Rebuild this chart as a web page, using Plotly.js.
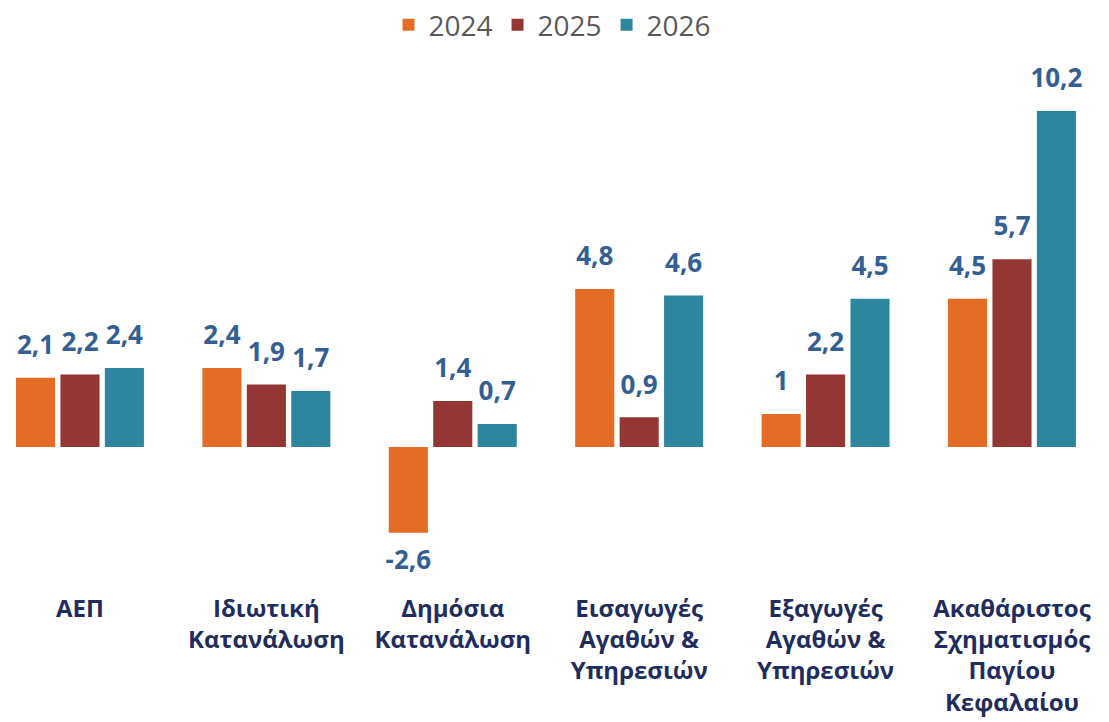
<!DOCTYPE html>
<html>
<head>
<meta charset="utf-8">
<script src="https://cdn.plot.ly/plotly-3.0.1.min.js"></script>
<style>html,body{margin:0;padding:0;background:#fff;}#chart{width:1109px;height:722px;}</style>
</head>
<body>
<div id="chart"></div>
<script>
const categories = [
  "ΑΕΠ",
  "Ιδιωτική<br>Κατανάλωση",
  "Δημόσια<br>Κατανάλωση",
  "Εισαγωγές<br>Αγαθών &amp;<br>Υπηρεσιών",
  "Εξαγωγές<br>Αγαθών &amp;<br>Υπηρεσιών",
  "Ακαθάριστος<br>Σχηματισμός<br>Παγίου<br>Κεφαλαίου"
];
const seriesNames = ["2024", "2025", "2026"];
const values2024 = [2.1, 2.4, -2.6, 4.8, 1, 4.5];
const values2025 = [2.2, 1.9, 1.4, 0.9, 2.2, 5.7];
const values2026 = [2.4, 1.7, 0.7, 4.6, 4.5, 10.2];
const colors = ["#E46C25", "#943634", "#2D869E"];

const allValues = [values2024, values2025, values2026];
const fmt = v => String(v).replace('.', ',');

const bars = allValues.map((vals, i) => ({
  type: 'bar',
  name: seriesNames[i],
  x: categories,
  y: vals,
  offsetgroup: seriesNames[i],
  marker: {color: colors[i]},
  hoverinfo: 'skip'
}));

const labels = allValues.map((vals, i) => ({
  type: 'scatter',
  mode: 'markers+text',
  showlegend: false,
  x: categories,
  y: vals,
  offsetgroup: seriesNames[i],
  text: vals.map(fmt),
  textposition: vals.map(v => v < 0 ? 'bottom center' : 'top center'),
  textfont: {family: 'Open Sans', size: 26, color: '#335F93', weight: 'bold'},
  marker: {size: 26, color: 'rgba(0,0,0,0)'},
  cliponaxis: false,
  hoverinfo: 'skip'
}));

const layout = {
  width: 1109,
  height: 722,
  margin: {l: 0, r: 4, t: 0, b: 135},
  paper_bgcolor: '#ffffff',
  plot_bgcolor: '#ffffff',
  barmode: 'group',
  scattermode: 'group',
  bargap: 0.285,
  bargroupgap: 0.12,
  scattergap: 0.285,
  showlegend: true,
  legend: {
    orientation: 'h',
    x: 0.5, xanchor: 'center',
    y: 1, yanchor: 'top',
    font: {family: 'Open Sans', size: 28, color: '#595959'},
    itemwidth: 30,
    bgcolor: 'rgba(0,0,0,0)'
  },
  xaxis: {
    type: 'category',
    range: [-0.429, 5.499],
    showgrid: false,
    zeroline: false,
    showline: false,
    ticks: '',
    ticklabelstandoff: 5,
    tickfont: {family: 'Open Sans', size: 24, color: '#1F2D5E', weight: 'bold'},
    tickangle: 0,
    automargin: false
  },
  yaxis: {
    range: [-4.25, 13.57],
    showgrid: false,
    zeroline: false,
    showline: false,
    showticklabels: false,
    ticks: '',
    automargin: false
  }
};

Plotly.newPlot('chart', bars.concat(labels), layout, {displayModeBar: false, staticPlot: true});
</script>
</body>
</html>
